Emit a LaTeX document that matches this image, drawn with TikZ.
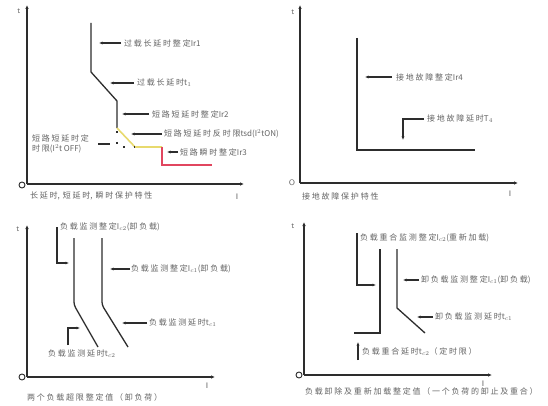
\documentclass[tikz,border=0pt]{standalone}
\usepackage{fontspec}
\usetikzlibrary{arrows.meta}
\newfontfamily\cjk[LetterSpace=22]{Noto Sans CJK SC}
\newfontfamily\cjkn{Noto Sans CJK SC}
\newcommand{\lt}[1]{{\cjkn #1}}
\definecolor{txt}{RGB}{100,100,100}
\definecolor{ln}{RGB}{45,45,45}
\definecolor{yel}{RGB}{232,218,110}
\definecolor{redl}{RGB}{225,70,95}
\tikzset{
  axis/.style={draw=ln,line width=1.4pt,-{Latex[length=4pt,width=3.5pt]}},
  curve/.style={draw=ln,line width=1.3pt},
  arr/.style={draw=ln,line width=1.1pt,-{Latex[length=3.5pt,width=3pt]}},
  lbl/.style={font=\cjk\fontsize{8}{9.5}\selectfont,text=txt,inner sep=0pt,anchor=west},
  axl/.style={font=\sffamily\fontsize{8}{9}\selectfont,text=txt,inner sep=0pt},
  orig/.style={circle,draw=ln,line width=0.9pt,fill=white,inner sep=0pt,minimum size=6pt}
}
\begin{document}
\begin{tikzpicture}[x=1pt,y=-1pt]
\useasboundingbox (0,0) rectangle (548,406);
\fill[white] (0,0) rectangle (548,406);

% ---------- Panel 1 ----------
\coordinate (o1) at (27,184);
\coordinate (y1) at (27,5);
\coordinate (x1) at (244,184);
\draw[axis] (o1) -- (y1);
\draw[axis] (o1) -- (x1);
\node[orig] (c1) at (22,185) {};
\node[axl] (t1) at (19,11) {t};
\node[axl] (i1) at (237,197) {I};
\node[lbl] (cap1) at (30,196) {长延时\lt{,}\hspace{3pt}短延时\lt{,}\hspace{3pt}瞬时保护特性};
\coordinate (p1a) at (91,23);
\coordinate (p1b) at (91,72);
\coordinate (p1c) at (117,101);
\coordinate (p1d) at (117,128);
\coordinate (p1e) at (135,147);
\coordinate (p1f) at (162,147);
\coordinate (p1g) at (162,165);
\coordinate (p1h) at (212,165);
\draw[curve] (p1a) -- (p1b) -- (p1c) -- (p1d);
\draw[draw=yel,line width=1.6pt] (p1d) -- (p1e) -- (p1f);
\draw[draw=redl,line width=1.4pt] (p1f) -- (p1g) -- (p1h);
\draw[draw=ln,line width=1.3pt,dash pattern=on 2pt off 9pt] (117,131) -- (117,147) -- (p1e);
\node[lbl] (l11) at (124,43) {过载长延时整定\lt{Ir1}};
\coordinate (e11) at (99,43);
\draw[arr] (l11.west) ++(-3,0) -- (e11);
\node[lbl] (l12) at (137,83) {过载长延时\lt{t$_1$}};
\coordinate (e12) at (110,83);
\draw[arr] (l12.west) ++(-3,0) -- (e12);
\node[lbl] (l13) at (152,114) {短路短延时整定\lt{Ir2}};
\coordinate (e13) at (122,114);
\draw[arr] (l13.west) ++(-3,0) -- (e13);
\node[lbl] (l14) at (164,134) {短路短延时反时限\lt{tsd(I$^2$tON)}};
\coordinate (e14) at (131,134);
\draw[arr] (l14.west) ++(-2,0) -- (e14);
\node[lbl] (l15) at (180,152) {短路瞬时整定\lt{Ir3}};
\coordinate (e15) at (167,152);
\draw[arr] (l15.west) ++(-2,0) -- (e15);
\node[lbl,align=left] (l16) at (32,144) {短路短延时定\\时限\lt{(I$^2$t OFF)}};
\coordinate (e16a) at (98,144);
\coordinate (e16b) at (110,144);
\draw[draw=ln,line width=1.1pt] (e16a) -- (e16b);

% ---------- Panel 2 ----------
\coordinate (o2) at (300,183);
\coordinate (y2) at (300,5);
\coordinate (x2) at (518,183);
\draw[axis] (o2) -- (y2);
\draw[axis] (o2) -- (x2);
\node[axl] (O2) at (292,183) {O};
\node[axl] (t2) at (293,12) {t};
\node[axl] (i2) at (510,194) {I};
\node[lbl] (cap2) at (302,196) {接地故障保护特性};
\coordinate (p2a) at (357,38);
\coordinate (p2b) at (357,150);
\coordinate (p2c) at (475,150);
\draw[curve] (p2a) -- (p2b) -- (p2c);
\node[lbl] (l21) at (396,77) {接地故障整定\lt{Ir4}};
\coordinate (e21) at (365,77);
\draw[arr] (l21.west) ++(-4,0) -- (e21);
\node[lbl] (l22) at (427,119) {接地故障延时\lt{T$_4$}};
\coordinate (e22) at (403,140);
\draw[arr] (l22.west) ++(-3,0) -| (e22);

% ---------- Panel 3 ----------
\coordinate (o3) at (27,377);
\coordinate (y3) at (27,225);
\coordinate (x3) at (215,377);
\draw[axis] (o3) -- (y3);
\draw[axis] (o3) -- (x3);
\node[orig] (c3) at (22,377) {};
\node[axl] (t3) at (18,229) {t};
\node[axl] (i3) at (207,386) {I};
\node[lbl] (cap3) at (27,397) {两个负载超限整定值（卸负荷）};
\draw[curve,rounded corners=3pt] (74,238) -- (74,305) -- (98,347);
\draw[curve,rounded corners=3pt] (102,238) -- (102,305) -- (128,347);
\node[lbl] (l31) at (60,227) {负载监测整定\lt{I$_{c2}$(}卸负载\lt{)}};
\coordinate (e31) at (69,263);
\draw[arr] (57,227) |- (e31);
\node[lbl] (l32) at (131,269) {负载监测整定\lt{I$_{c1}$(}卸负载\lt{)}};
\coordinate (e32) at (110,269);
\draw[arr] (l32.west) ++(-1,0) -- (e32);
\node[lbl] (l33) at (149,323) {负载监测延时\lt{t$_{c1}$}};
\coordinate (e33) at (122,323);
\draw[arr] (l33.west) ++(-2,0) -- (e33);
\node[lbl] (l34) at (48,354) {负载监测延时\lt{t$_{c2}$}};
\coordinate (e34) at (80,328);
\draw[arr] (68,345) |- (e34);

% ---------- Panel 4 ----------
\coordinate (o4) at (304,375);
\coordinate (y4) at (304,222);
\coordinate (x4) at (492,375);
\draw[axis] (o4) -- (y4);
\draw[axis] (o4) -- (x4);
\node[orig] (c4) at (299,375) {};
\node[axl] (t4) at (293,226) {t};
\node[axl] (i4) at (483,384) {I};
\node[lbl] (cap4) at (305,391) {负载卸除及重新加载整定值（一个负荷的卸止及重合）};
\draw[curve] (380,249) -- (380,333) -- (354,333);
\draw[curve] (397,249) -- (397,308) -- (425,333);
\node[lbl] (l41) at (360,238) {负载重合监测整定\lt{I$_{c2}$(}重新加载\lt{)}};
\coordinate (e41) at (376,285);
\draw[arr] (357,233) |- (e41);
\node[lbl] (l42) at (421,280) {卸负载监测整定\lt{I$_{c1}$(}卸负载\lt{)}};
\coordinate (e42) at (403,280);
\draw[arr] (l42.west) ++(-2,0) -- (e42);
\node[lbl] (l43) at (435,317) {卸负载监测延时\lt{t$_{c1}$}};
\coordinate (e43) at (417,317);
\draw[arr] (l43.west) ++(-2,0) -- (e43);
\node[lbl] (l44) at (362,352) {负载重合延时\lt{t$_{c2}$}（定时限）};
\coordinate (e44) at (358,342);
\draw[arr] (358,360) -- (e44);
\end{tikzpicture}
\end{document}
